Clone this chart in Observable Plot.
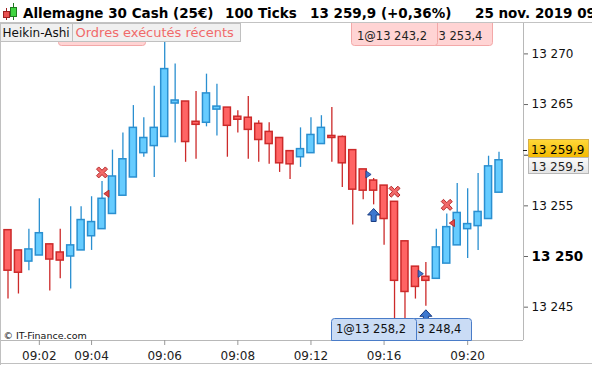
<!DOCTYPE html>
<html>
<head>
<meta charset="utf-8">
<script src="https://cdn.jsdelivr.net/npm/d3@7"></script>
<script src="https://cdn.jsdelivr.net/npm/@observablehq/plot@0.6"></script>
<style>
html,body{margin:0;padding:0;background:#fff;}
#wrap{position:relative;width:592px;height:365px;overflow:hidden;font-family:"DejaVu Sans",sans-serif;}
#title{position:absolute;left:0;top:0;}
#chart{position:absolute;left:0;top:23px;}
</style>
</head>
<body>
<div id="wrap">
<svg id="title" width="592" height="23" font-family="DejaVu Sans">
  <line x1="6.5" x2="6.5" y1="8" y2="20" stroke="#9a2020"/>
  <rect x="3.5" y="11.5" width="6" height="6" fill="#e85050" stroke="#9a2020"/>
  <line x1="13.5" x2="13.5" y1="3" y2="20" stroke="#1f7a1f"/>
  <rect x="10.5" y="7.5" width="6" height="9" fill="#3fd43f" stroke="#1f7a1f"/>
  <g font-weight="bold" font-size="13.5" fill="#000">
    <text x="23" y="18">Allemagne 30 Cash (25€)</text>
    <text x="225" y="18">100 Ticks</text>
    <text x="310" y="18">13 259,9 (+0,36%)</text>
    <text x="475" y="18">25 nov. 2019 09:21</text>
  </g>
  <line x1="0" x2="592" y1="22.5" y2="22.5" stroke="#c3c3c3"/>
</svg>
<div id="chart"></div>
</div>
<script>
// ---- data ----
const times   = ["09:02","09:04","09:06","09:08","09:12","09:16","09:20"];
const timeIdx = [3, 8, 15, 22, 29, 36, 44];
const yTicks  = [13245, 13250, 13255, 13260, 13265, 13270];
const boldTick = 13250;
const hiddenTick = 13260; // label covered by the price tags

const open  = [13252.6,13250.6,13249.5,13250.1,13251.2,13250.4,13250.0,13250.6,13252.0,13252.7,13254.2,13256.0,13257.8,13260.2,13260.9,13261.8,13265.1,13265.3,13263.3,13263.2,13264.5,13264.7,13263.8,13263.7,13263.1,13262.3,13261.7,13260.4,13259.8,13260.2,13261.1,13261.9,13261.8,13260.5,13258.6,13257.5,13257.0,13255.4,13251.5,13249.0,13248.0,13247.8,13249.3,13251.1,13252.7,13253.0,13253.7,13256.3];
const high  = [13252.6,13250.6,13252.7,13255.7,13251.2,13252.7,13254.9,13254.9,13255.9,13257.4,13260.5,13262.2,13264.9,13263.7,13266.8,13271.5,13269.0,13265.3,13266.3,13268.0,13267.0,13264.7,13264.4,13265.8,13263.4,13263.2,13261.7,13260.4,13262.7,13263.7,13263.9,13264.7,13261.9,13260.5,13258.6,13257.7,13257.0,13255.4,13251.5,13249.0,13249.4,13252.7,13254.2,13257.2,13256.7,13258.2,13259.9,13260.3];
const low   = [13245.8,13246.3,13248.6,13250.1,13246.6,13247.8,13246.8,13250.6,13250.6,13252.7,13254.2,13256.0,13257.8,13259.8,13257.8,13261.8,13261.2,13259.3,13259.6,13262.8,13261.9,13259.8,13262.2,13259.6,13259.3,13259.1,13258.3,13257.6,13258.8,13260.2,13261.1,13259.3,13256.8,13253.1,13255.6,13255.1,13251.1,13243.2,13243.2,13245.8,13245.1,13247.8,13249.3,13251.1,13249.8,13250.6,13253.7,13256.3];
const close = [13248.6,13248.4,13250.7,13252.3,13249.7,13249.6,13251.1,13253.6,13253.4,13255.7,13257.9,13259.6,13262.7,13261.7,13262.7,13268.5,13265.4,13261.3,13263.0,13266.1,13264.8,13262.9,13263.5,13262.5,13261.5,13261.1,13259.2,13259.1,13260.6,13262.0,13262.7,13261.7,13259.2,13256.6,13256.5,13256.5,13253.7,13247.6,13246.5,13247.0,13247.6,13250.9,13252.9,13254.3,13253.2,13254.4,13258.9,13259.5];

// executed-order markers (candle position, price)
const crossPos = [9.0, 37.0, 42.0];
const crossVal = [13258.3, 13256.4, 13255.1];
const leftTriPos = [9.43, 42.5];
const leftTriVal = [13256.2, 13253.3];
const rightTriPos = [34.5, 39.5];
const rightTriVal = [13258.1, 13248.3];
const arrowPos = [35.0, 40.0];
const arrowVal = [13254.1, 13244.1];

const topOrders = ["1@13 243,2", "1@13 253,4"];
const bottomOrders = ["1@13 258,2", "1@13 248,4"];
const lastPrice = 13259.9;
const haClose = 13259.5;
const fmtPrice = v => d3.format(",.1f")(v).replace(",", " ").replace(".", ",");
const fmtTick = v => d3.format(",d")(v).replace(",", " ");

// ---- build ----
const candles = open.map((o, i) => ({i, o, h: high[i], l: low[i], c: close[i]}));
const up = candles.filter(d => d.c >= d.o);
const down = candles.filter(d => d.c < d.o);
const BF = "#66ccff", BS = "#2a8fd0", RF = "#ff6464", RS = "#cc2a2a";

const pts = (p, v) => p.map((x, k) => ({x, y: v[k]}));
const symCross = {draw(c){const a=5.5,w=2.2;
  c.moveTo(-a,-a+w);c.lineTo(-a+w,-a);c.lineTo(0,-w);c.lineTo(a-w,-a);c.lineTo(a,-a+w);c.lineTo(w,0);
  c.lineTo(a,a-w);c.lineTo(a-w,a);c.lineTo(0,w);c.lineTo(-a+w,a);c.lineTo(-a,a-w);c.lineTo(-w,0);c.closePath();}};
const symLeft = {draw(c){c.moveTo(-2.7,0);c.lineTo(2.5,-3.6);c.lineTo(2.5,3.6);c.closePath();}};
const symRight = {draw(c){c.moveTo(2.7,0);c.lineTo(-2.5,-3.6);c.lineTo(-2.5,3.6);c.closePath();}};
const symArrow = {draw(c){c.moveTo(0,-6.5);c.lineTo(6,0);c.lineTo(2.5,0);c.lineTo(2.5,6.5);c.lineTo(-2.5,6.5);c.lineTo(-2.5,0);c.lineTo(-6,0);c.closePath();}};

const xDom = [-0.718, 49.345];
const yDom = [13241.71, 13273.0];

const plot = Plot.plot({
  width: 592, height: 342,
  marginTop: 0, marginBottom: 25, marginLeft: 0, marginRight: 69,
  x: {domain: xDom, axis: null},
  y: {domain: yDom, axis: null},
  style: {fontFamily: "DejaVu Sans", background: "transparent"},
  marks: [
    Plot.ruleY([yDom[0]], {stroke: "#b8b8b8"}),
    Plot.ruleX([xDom[0]], {stroke: "#c0c0c0"}),
    Plot.ruleX([xDom[1]], {stroke: "#b8b8b8"}),
    Plot.ruleX(up, {x: "i", y1: "l", y2: "h", stroke: BS, strokeWidth: 1.3}),
    Plot.ruleX(down, {x: "i", y1: "l", y2: "h", stroke: RS, strokeWidth: 1.3}),
    Plot.rect(up, {x1: d => d.i - 0.5, x2: d => d.i + 0.5, y1: "o", y2: "c", insetLeft: 1.7, insetRight: 1.7, fill: BF, stroke: BS, strokeWidth: 1.5}),
    Plot.rect(down, {x1: d => d.i - 0.5, x2: d => d.i + 0.5, y1: "o", y2: "c", insetLeft: 1.7, insetRight: 1.7, fill: RF, stroke: RS, strokeWidth: 1.5}),
    Plot.dot(pts(crossPos, crossVal), {x: "x", y: "y", symbol: symCross, fill: "#f26a6a", stroke: "#b52a2a", strokeWidth: 1}),
    Plot.dot(pts(leftTriPos, leftTriVal), {x: "x", y: "y", symbol: symLeft, fill: "#e24848", stroke: "#a82020", strokeWidth: 0.8}),
    Plot.dot(pts(rightTriPos, rightTriVal), {x: "x", y: "y", symbol: symRight, fill: "#3b78d2", stroke: "#1c3c88", strokeWidth: 0.8}),
    Plot.dot(pts(arrowPos, arrowVal), {x: "x", y: "y", symbol: symArrow, fill: "#3d78d0", stroke: "#173a80", strokeWidth: 1}),
    Plot.axisY({anchor: "right", ticks: [hiddenTick], tickSize: 4, text: null, stroke: "#444"}),
    Plot.axisY({anchor: "right", ticks: yTicks.filter(t => t !== boldTick && t !== hiddenTick), tickSize: 4, tickPadding: 4, tickFormat: fmtTick, fontSize: 12, stroke: "#666", fill: "#111"}),
    Plot.axisY({anchor: "right", ticks: [boldTick], tickSize: 4, tickPadding: 4, tickFormat: fmtTick, fontSize: 13.5, fontWeight: "bold", stroke: "#666", fill: "#000"}),
    Plot.axisX({anchor: "bottom", ticks: timeIdx, tickFormat: d => times[timeIdx.indexOf(d)], tickSize: 5, tickPadding: 6, fontSize: 12, stroke: "#999", fill: "#222"}),
    Plot.text(["© IT-Finance.com"], {frameAnchor: "bottom-left", dx: 3, dy: -2, textAnchor: "start", lineAnchor: "bottom", fontSize: 9.5, fill: "#111"})
  ]
});

document.getElementById("chart").appendChild(plot);

// ---- overlay annotations positioned through the plot's scales ----
const X = plot.scale("x").apply, Y = plot.scale("y").apply;
const svg = d3.select(plot);
const g = svg.append("g").attr("text-anchor", "start");
function box(x0, y0, x1, y1, r, top, bottom) {
  const p = d3.path();
  p.moveTo(x0, y0 + (top ? r : 0));
  if (top) p.arcTo(x0, y0, x0 + r, y0, r);
  p.lineTo(x1 - (top ? r : 0), y0);
  if (top) p.arcTo(x1, y0, x1, y0 + r, r);
  p.lineTo(x1, y1 - (bottom ? r : 0));
  if (bottom) p.arcTo(x1, y1, x1 - r, y1, r);
  p.lineTo(x0 + (bottom ? r : 0), y1);
  if (bottom) p.arcTo(x0, y1, x0, y1 - r, r);
  p.closePath();
  return p.toString();
}
function txt(x, y, s, size, fill, weight) {
  return g.append("text").attr("x", x).attr("y", y).attr("font-size", size).attr("fill", fill)
    .attr("text-anchor", "start").attr("font-weight", weight || "normal").text(s);
}
// bottom border and left border below frame
g.append("line").attr("x1", 0).attr("x2", 592).attr("y1", 340.5).attr("y2", 340.5).attr("stroke", "#c0c0c0");
g.append("line").attr("x1", 0.5).attr("x2", 0.5).attr("y1", 0).attr("y2", 342).attr("stroke", "#c0c0c0");

// pink "ordres" popup partly hidden
g.append("path").attr("d", box(58.5, 6, 145.5, 22.5, 3, false, true)).attr("fill", "#ffd4d4").attr("stroke", "#f3a8a8");
// Heikin-Ashi / Ordres bar
g.append("rect").attr("x", 0.5).attr("y", 0.5).attr("width", 72).attr("height", 18).attr("fill", "#f0f0f0").attr("stroke", "#c0c0c0");
g.append("rect").attr("x", 72.5).attr("y", 0.5).attr("width", 168).attr("height", 18).attr("fill", "#f0f0f0").attr("stroke", "#c0c0c0");
txt(2.5, 14.3, "Heikin-Ashi", 12, "#111");
txt(75.5, 14.3, "Ordres exécutés récents", 13, "#f06a6a");

// top order labels (second drawn first, first on top)
g.append("path").attr("d", box(402.5, -4, 492.5, 22.5, 3, false, true)).attr("fill", "#ffd4d4").attr("stroke", "#f3a8a8");
txt(412.4, 17, topOrders[1], 11.5, "#222");
g.append("path").attr("d", box(351.5, -4, 437.5, 22.5, 3, false, true)).attr("fill", "#ffd4d4").attr("stroke", "#f3a8a8");
txt(357, 17, topOrders[0], 11.5, "#222");

// bottom order labels
g.append("path").attr("d", box(381.5, 295.5, 471.5, 317.5, 3, true, false)).attr("fill", "#cadcf5").attr("stroke", "#4a7cc8");
txt(391.4, 310.3, bottomOrders[1], 11.5, "#111");
g.append("path").attr("d", box(331.5, 295.5, 416.5, 317.5, 3, true, false)).attr("fill", "#cadcf5").attr("stroke", "#4a7cc8");
txt(336, 310.3, bottomOrders[0], 11.5, "#111");

// price tags on the right axis
const yp = Y(lastPrice);
const defs = svg.append("defs");
const gy = defs.append("linearGradient").attr("id", "gy").attr("x1", 0).attr("x2", 0).attr("y1", 0).attr("y2", 1);
gy.append("stop").attr("offset", 0).attr("stop-color", "#ffd83a");
gy.append("stop").attr("offset", 1).attr("stop-color", "#f3b900");
const gg = defs.append("linearGradient").attr("id", "gg").attr("x1", 0).attr("x2", 0).attr("y1", 0).attr("y2", 1);
gg.append("stop").attr("offset", 0).attr("stop-color", "#fbfbfb");
gg.append("stop").attr("offset", 1).attr("stop-color", "#e4e4e4");
const yTop = Math.round(yp - 17.2) + 0.5;
g.append("rect").attr("x", 528.5).attr("y", yTop).attr("width", 60).attr("height", 18).attr("fill", "url(#gy)").attr("stroke", "#d8b048");
txt(531, yTop + 14.5, fmtPrice(lastPrice), 12, "#000");
g.append("rect").attr("x", 528.5).attr("y", yTop + 18).attr("width", 60).attr("height", 16).attr("fill", "url(#gg)").attr("stroke", "#b8b8b8");
txt(531, yTop + 31, fmtPrice(haClose), 12, "#222");
g.append("line").attr("x1", 523).attr("x2", 527).attr("y1", yTop + 11).attr("y2", yTop + 11).attr("stroke", "#222");
</script>
</body>
</html>
